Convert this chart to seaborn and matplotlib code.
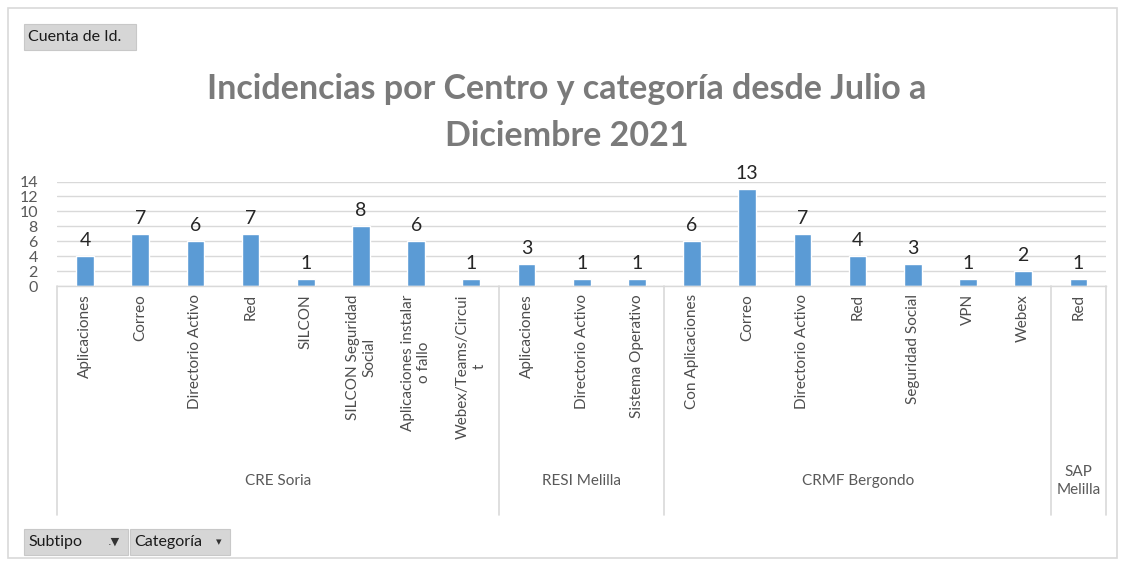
import matplotlib
matplotlib.use("Agg")
import matplotlib.pyplot as plt
import matplotlib.transforms as mtransforms
from matplotlib.patches import Rectangle
import numpy as np
import pandas as pd
import seaborn as sns

# --- data -----------------------------------------------------------------
centros = (["CRE Soria"] * 8 + ["RESI Melilla"] * 3 +
           ["CRMF Bergondo"] * 7 + ["SAP Melilla"])
categorias = ["Aplicaciones", "Correo", "Directorio Activo", "Red", "SILCON",
              "SILCON Seguridad\nSocial", "Aplicaciones instalar\no fallo",
              "Webex/Teams/Circui\nt",
              "Aplicaciones", "Directorio Activo", "Sistema Operativo",
              "Con Aplicaciones", "Correo", "Directorio Activo", "Red",
              "Seguridad Social", "VPN", "Webex",
              "Red"]
valores = [4, 7, 6, 7, 1, 8, 6, 1,
           3, 1, 1,
           6, 13, 7, 4, 3, 1, 2,
           1]
grupos_etiqueta = {"SAP Melilla": "SAP\nMelilla"}
titulo = "Incidencias por Centro y categoría desde Julio a\nDiciembre 2021"
yticks = [0, 2, 4, 6, 8, 10, 12, 14]

df = pd.DataFrame({"centro": centros, "categoria": categorias, "n": valores})
df["clave"] = [f"{i:02d}|{c}|{k}" for i, (c, k) in enumerate(zip(centros, categorias))]

# --- style ----------------------------------------------------------------
sns.set_theme(style="white")
plt.rcParams["font.family"] = ["Lato", "DejaVu Sans"]

W, H = 1124, 561
fig = plt.figure(figsize=(W / 100, H / 100), dpi=100)
fig.patch.set_facecolor("white")

def fx(px):
    return px / W

def fy(py):
    return 1 - py / H

ax = fig.add_axes([fx(57.4), fy(286), fx(1106) - fx(57.4), fy(181.5) - fy(286)])

sns.barplot(data=df, x="clave", y="n", order=list(df["clave"]),
            color="#5B9BD5", saturation=1, width=0.32, ax=ax)

ax.set_xlim(-0.5, len(df) - 0.5)
ax.set_ylim(0, 14)
ax.set_yticks(yticks)
ax.set_yticklabels([str(t) for t in yticks], fontsize=11.5, color="#595959")
ax.tick_params(axis="y", length=0, pad=14)
ax.tick_params(axis="x", length=0, pad=6)
ax.set_xlabel("")
ax.set_ylabel("")
ax.grid(axis="y", color="#d9d9d9", linewidth=1)
ax.set_axisbelow(True)
for s in ["top", "right", "left"]:
    ax.spines[s].set_visible(False)
ax.spines["bottom"].set_color("#d9d9d9")
ax.spines["bottom"].set_linewidth(1)

ax.set_xticks(range(len(df)))
ax.set_xticklabels(categorias, rotation=90, fontsize=11, color="#4d4d4d",
                   ha="center", va="top", multialignment="center")

# value labels above each bar
for i, v in enumerate(valores):
    ax.annotate(str(v), (i, v), xytext=(0, 5), textcoords="offset points",
                ha="center", va="bottom", fontsize=14, color="#262626",
                clip_on=False)

# group separators and group labels below the category labels
blend = mtransforms.blended_transform_factory(ax.transData, fig.transFigure)
limites = [-0.5]
for i in range(1, len(centros)):
    if centros[i] != centros[i - 1]:
        limites.append(i - 0.5)
limites.append(len(centros) - 0.5)
for b in limites:
    ax.plot([b, b], [fy(286), fy(515)], transform=blend, color="#d9d9d9",
            linewidth=1.2, clip_on=False)

for a, b in zip(limites[:-1], limites[1:]):
    nombre = centros[int(a + 0.5)]
    texto = grupos_etiqueta.get(nombre, nombre)
    ax.text((a + b) / 2, fy(481), texto, transform=blend, ha="center",
            va="center", fontsize=11, color="#595959", linespacing=1.3)

# title
fig.text(fx(567), fy(112.5), titulo, ha="center", va="center", fontsize=24.5,
         fontweight="bold", color="#7a7a7a", linespacing=1.55)

# outer frame
fig.patches.append(Rectangle((fx(8), fy(558)), fx(1117) - fx(8), fy(8) - fy(558),
                             transform=fig.transFigure, fill=False,
                             edgecolor="#d9d9d9", linewidth=1.2))

# pivot field buttons
def boton(x0, x1, y0, y1, texto, icono=None):
    fig.patches.append(Rectangle((fx(x0), fy(y1)), fx(x1) - fx(x0), fy(y0) - fy(y1),
                                 transform=fig.transFigure, facecolor="#d6d6d6",
                                 edgecolor="#c8c8c8", linewidth=0.8))
    fig.text(fx(x0 + 4), fy((y0 + y1) / 2), texto, ha="left", va="center",
             fontsize=11.5, color="#1a1a1a")
    if icono:
        fig.text(fx(x1 - 8), fy((y0 + y1) / 2), icono, ha="right", va="center",
                 fontsize=8, color="#333333", family="DejaVu Sans")

boton(24, 136, 24, 50, "Cuenta de Id.")
boton(24, 128, 529, 555, "Subtipo", ".▼")
boton(130, 230, 529, 555, "Categoría", "▾")

fig.savefig("out.png", dpi=100, facecolor="white")
